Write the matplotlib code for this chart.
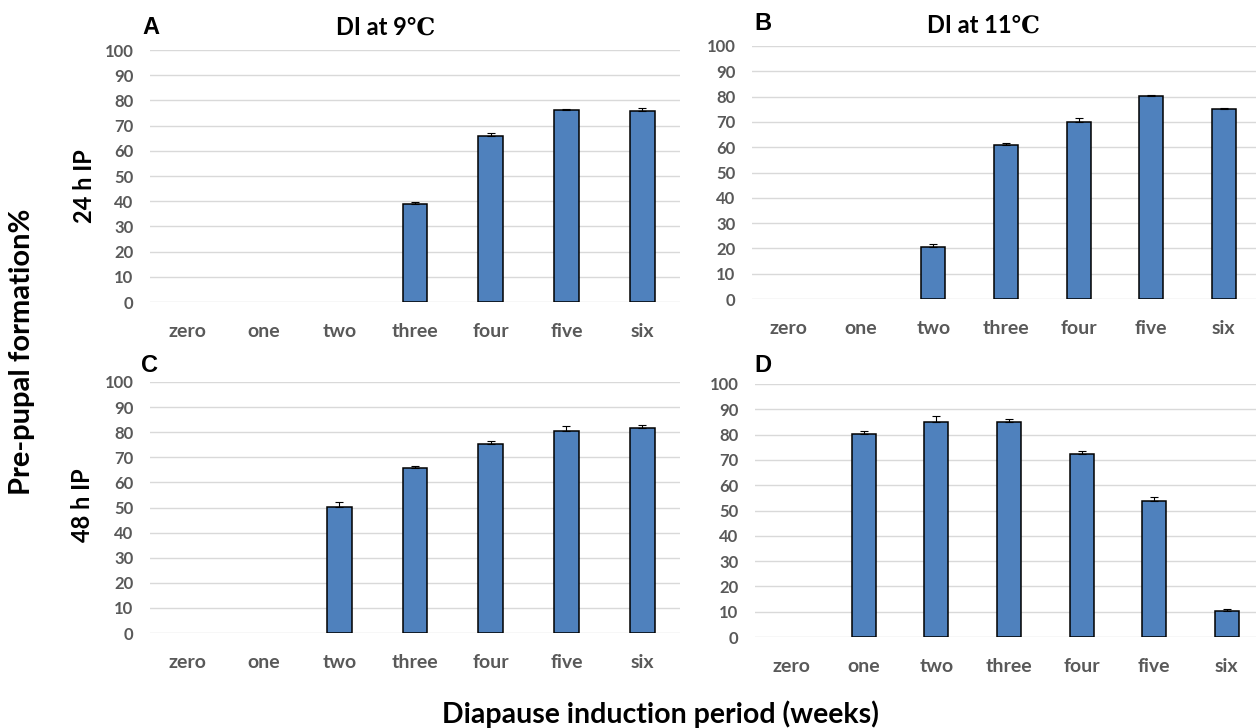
import matplotlib
matplotlib.use("Agg")
import matplotlib.pyplot as plt
import numpy as np

# weeks of diapause induction
weeks = ['zero', 'one', 'two', 'three', 'four', 'five', 'six']

# pre-pupal formation % and upper error
a_vals = [0, 0, 0, 39.0, 65.7, 76.0, 75.7]
a_err = [0, 0, 0, 0.6, 1.4, 0.6, 1.2]
b_vals = [0, 0, 20.5, 60.7, 70.0, 80.2, 75.0]
b_err = [0, 0, 1.2, 1.1, 1.4, 0.5, 0.5]
c_vals = [0, 0, 50.3, 65.7, 75.1, 80.5, 81.6]
c_err = [0, 0, 2.0, 0.7, 1.3, 2.0, 1.2]
d_vals = [0, 80.3, 85.1, 85.1, 72.5, 53.8, 10.4]
d_err = [0, 1.1, 2.1, 0.9, 1.1, 1.7, 0.7]

W, H = 1256, 728
fig = plt.figure(figsize=(W / 100, H / 100), dpi=100)

sans = 'Lato'
grey = '#595959'
bar_col = '#4f81bd'


def make_axes(x0, x1, y0, y1):
    # pixel box -> figure fraction
    return fig.add_axes([x0 / W, 1 - y0 / H, (x1 - x0) / W, (y0 - y1) / H])


def draw_panel(ax, vals, err):
    x = np.arange(len(weeks))
    vals = np.array(vals)
    err = np.array(err)
    keep = vals > 0
    ax.bar(x[keep], vals[keep], width=0.33, color=bar_col, edgecolor='black',
           linewidth=1.1, zorder=3)
    ax.errorbar(x[keep], vals[keep], yerr=[np.zeros(keep.sum()), err[keep]],
                fmt='none', ecolor='black', elinewidth=0.8, capsize=2.6,
                capthick=0.8, zorder=4)
    ax.set_xlim(-0.5, 6.5)
    ax.set_ylim(0, 100)
    ax.set_yticks(range(0, 101, 10))
    ax.set_xticks(x)
    ax.set_xticklabels(weeks)
    ax.grid(axis='y', color='#d9d9d9', linewidth=1.0, zorder=0)
    ax.set_axisbelow(True)
    for s in ax.spines.values():
        s.set_visible(False)
    ax.tick_params(axis='y', length=0, pad=12, labelsize=12, labelcolor=grey)
    ax.tick_params(axis='x', length=0, pad=15, labelsize=14, labelcolor=grey)
    for lab in ax.get_yticklabels() + ax.get_xticklabels():
        lab.set_fontfamily(sans)
        lab.set_fontweight('bold')


ax_a = make_axes(150, 680, 302, 50)
draw_panel(ax_a, a_vals, a_err)
ax_b = make_axes(752, 1260, 299, 46)
draw_panel(ax_b, b_vals, b_err)
ax_c = make_axes(150, 680, 633, 382)
draw_panel(ax_c, c_vals, c_err)
ax_d = make_axes(755, 1263, 637, 384)
draw_panel(ax_d, d_vals, d_err)


def ftext(px, py, s, **kw):
    fig.text(px / W, 1 - py / H, s, **kw)


# panel letters
for px, py, s in [(142, 27, 'A'), (754, 24, 'B'), (141, 365, 'C'), (754, 366, 'D')]:
    ftext(px, py, s, fontsize=17, fontweight='bold', family='Liberation Sans',
          va='center', ha='left')

# panel titles
ftext(386, 27, 'DI at 9\u2103', fontsize=17, fontweight='bold',
      family=[sans, 'DejaVu Serif'], va='center', ha='center')
ftext(983, 25, 'DI at 11\u2103', fontsize=17, fontweight='bold',
      family=[sans, 'DejaVu Serif'], va='center', ha='center')

# row labels
ftext(84, 186, '24 h IP', fontsize=17, fontweight='bold', family=sans,
      rotation=90, va='center', ha='center')
ftext(82, 505, '48 h IP', fontsize=17, fontweight='bold', family=sans,
      rotation=90, va='center', ha='center')

# shared axis labels
ftext(22, 352, 'Pre-pupal formation%', fontsize=21, fontweight='bold',
      family=sans, rotation=90, va='center', ha='center')
ftext(660, 714, 'Diapause induction period (weeks)', fontsize=20.5,
      fontweight='bold', family=sans, va='center', ha='center')

fig.savefig('out.png', dpi=100)
